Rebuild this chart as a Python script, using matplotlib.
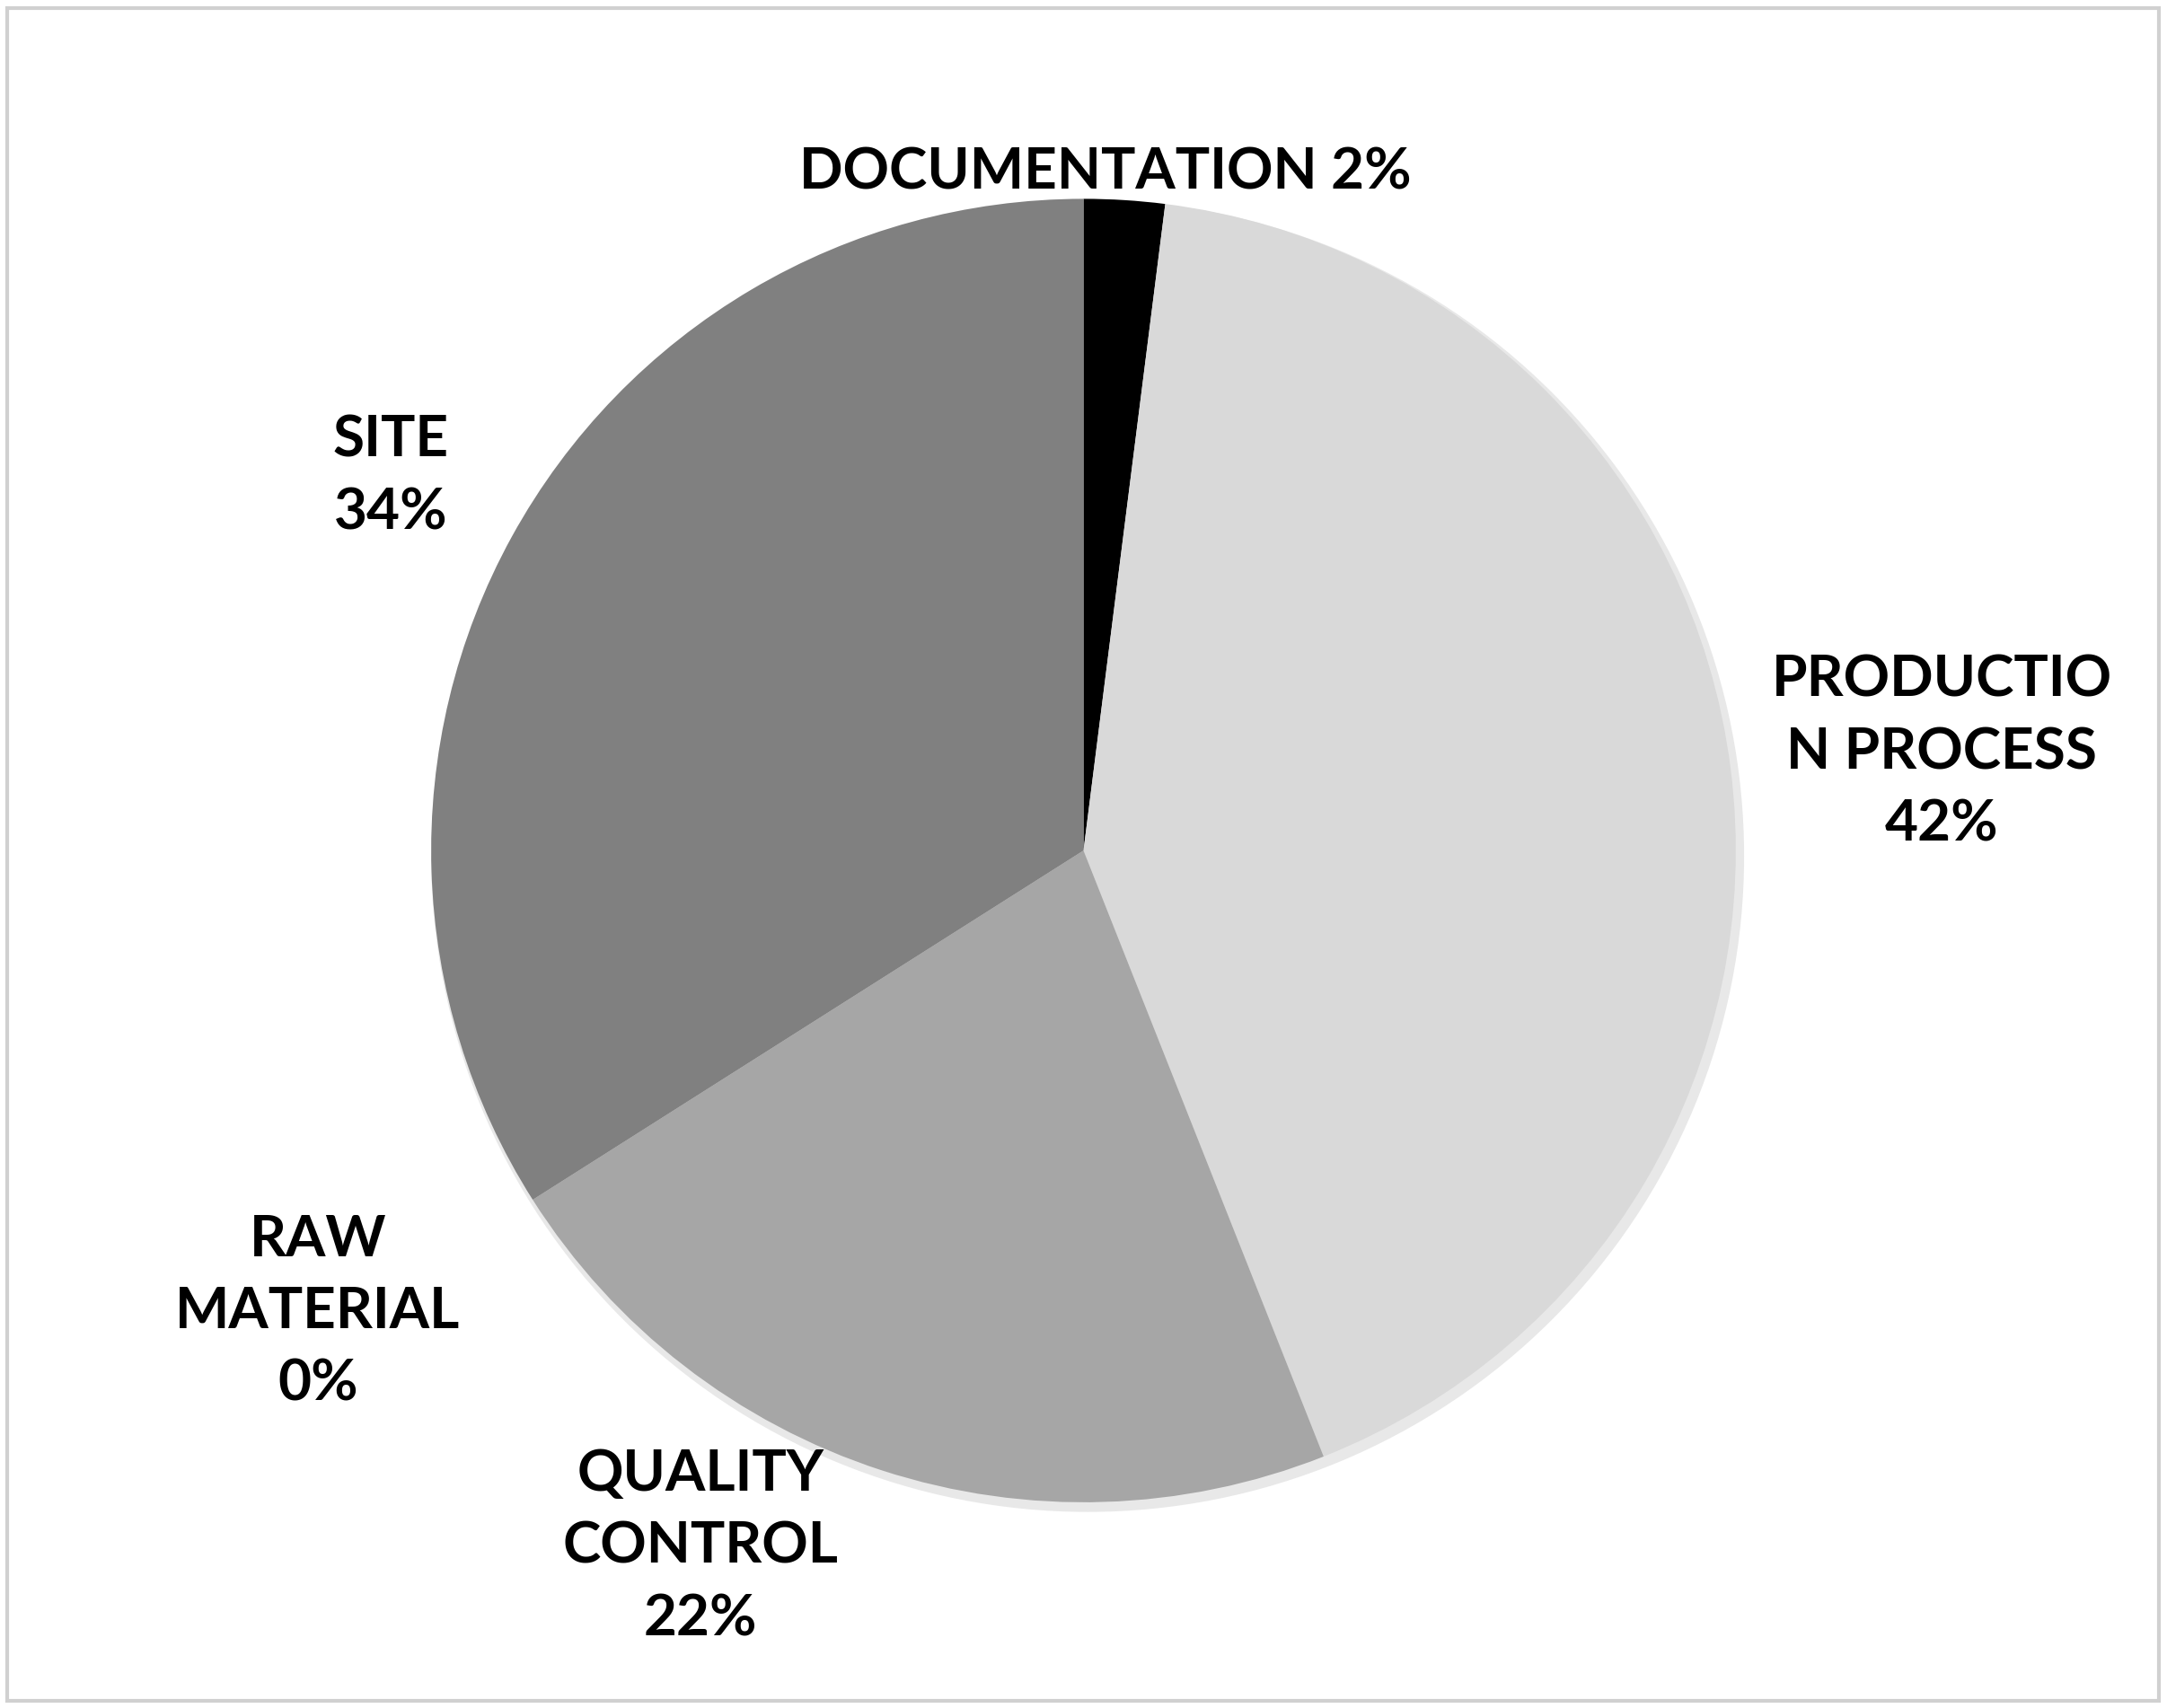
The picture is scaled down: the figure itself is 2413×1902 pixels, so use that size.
import matplotlib.pyplot as plt
from matplotlib.patches import Rectangle

# slice data, clockwise from 12 o'clock
labels = ["DOCUMENTATION", "PRODUCTION PROCESS", "QUALITY CONTROL", "RAW MATERIAL", "SITE"]
values = [2, 42, 22, 0, 34]
colors = ["#000000", "#d9d9d9", "#a6a6a6", "#595959", "#808080"]

# label text as printed on the chart
label_text = ["DOCUMENTATION 2%", "PRODUCTIO\nN PROCESS\n42%", "QUALITY\nCONTROL\n22%",
              "RAW\nMATERIAL\n0%", "SITE\n34%"]
# positions in picture pixels, measured from the top
label_pos = [(800, 125), (1405, 545), (507, 1120), (230, 950), (283, 345)]

H = 1237
fig = plt.figure(figsize=(24.13, 19.02), dpi=100)
ax = fig.add_axes([0, 0, 1, 1])

# soft shadow under the pie
ax.pie([1], colors=["#e8e8e8"], center=(787, H - 620), radius=475, frame=True)
ax.pie(values, colors=colors, startangle=90, counterclock=False,
       center=(784, H - 616), radius=472, frame=True,
       wedgeprops=dict(linewidth=0))
ax.set_xlim(0, 1568)
ax.set_ylim(0, H)
ax.set_aspect("auto")
ax.axis("off")

for txt, (x, y) in zip(label_text, label_pos):
    ax.text(x, H - y, txt, ha="center", va="center", fontsize=46, fontweight="bold",
            family="Lato", linespacing=1.5)

ax.add_patch(Rectangle((5, 5), 1557, 1226, fill=False, edgecolor="#d0d0d0", linewidth=3))

fig.savefig("out.png", dpi=100, facecolor="white")
